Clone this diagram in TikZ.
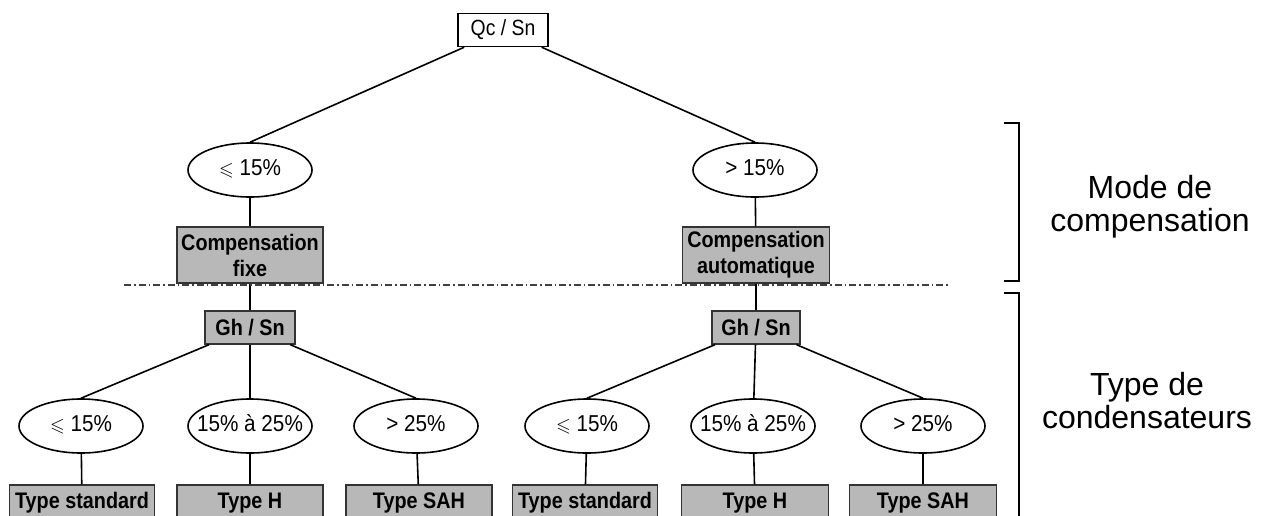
\documentclass[tikz,border=0pt]{standalone}
\usepackage{amsmath,amssymb}
\usepackage{fontspec}
\setmainfont{Liberation Sans}
\newfontfamily\narrowfont[FakeStretch=0.88]{Liberation Sans}
\newfontfamily\ovalfont[FakeStretch=0.9]{Liberation Sans}
\usetikzlibrary{shapes.geometric}
\tikzstyle{rootbox} = [draw=black, fill=white, line width=1.4pt,
    rectangle, minimum width=90pt, minimum height=33pt,
    font=\narrowfont\fontsize{22}{24}\selectfont]
\tikzstyle{greybox} = [draw=black!80, fill=black!28, line width=1.4pt,
    rectangle, inner sep=2pt, align=center,
    font=\narrowfont\bfseries\fontsize{22.5}{26}\selectfont]
\tikzstyle{ratio} = [draw=black, fill=white, line width=1.6pt, ellipse,
    minimum width=124pt, minimum height=54pt, inner ysep=0pt, inner xsep=-10pt,
    text height=16pt, text depth=5pt,
    font=\ovalfont\fontsize{23}{23}\selectfont]
\tikzstyle{branch} = [line width=1.6pt]
\tikzstyle{sidetext} = [align=center, font=\fontsize{32}{33}\selectfont]
\newcommand{\leqsym}{{\fontsize{19}{19}\selectfont$\leqslant$}}

\begin{document}
\begin{tikzpicture}[x=1pt, y=-1pt]
                \useasboundingbox (0,0) rectangle (1272,515);
                % first level
                \node [rootbox] (qc) at (503,30) {Qc / Sn};
                \node [ratio] (lowq) at (250,170) {\leqsym{} 15\%};
                \node [ratio] (highq) at (755,170) {> 15\%};
                \node [greybox, minimum width=146pt, minimum height=56pt] (fixe) at (250,255) {Compensation\\fixe};
                \node [greybox, minimum width=147pt, minimum height=56pt] (auto) at (756,255) {Compensation\\automatique};
                % second level
                \node [greybox, minimum width=90pt, minimum height=33pt] (ghA) at (250,327.5) {Gh / Sn};
                \node [greybox, minimum width=88pt, minimum height=33pt] (ghB) at (756,327.5) {Gh / Sn};
                \node [ratio] (lowA) at (81,426) {\leqsym{} 15\%};
                \node [ratio] (midA) at (250,426) {15\% à 25\%};
                \node [ratio] (highA) at (416,426) {> 25\%};
                \node [ratio] (lowB) at (587,426) {\leqsym{} 15\%};
                \node [ratio] (midB) at (753,426) {15\% à 25\%};
                \node [ratio] (highB) at (923,426) {> 25\%};
                \node [greybox, minimum width=145pt, minimum height=36pt] (stdA) at (82,503) {Type standard};
                \node [greybox, minimum width=146pt, minimum height=36pt] (hA) at (250,503) {Type H};
                \node [greybox, minimum width=146pt, minimum height=36pt] (sahA) at (419,503) {Type SAH};
                \node [greybox, minimum width=145pt, minimum height=36pt] (stdB) at (585,503) {Type standard};
                \node [greybox, minimum width=147pt, minimum height=36pt] (hB) at (755,503) {Type H};
                \node [greybox, minimum width=147pt, minimum height=36pt] (sahB) at (923,503) {Type SAH};
                % connectors
                \draw [branch] (qc) -- (lowq.north);
                \draw [branch] (qc) -- (highq.north);
                \draw [branch] (lowq) -- (fixe);
                \draw [branch] (highq) -- (auto);
                \draw [branch] (fixe) -- (ghA);
                \draw [branch] (auto) -- (ghB);
                \draw [branch] (ghA) -- (lowA.north);
                \draw [branch] (ghA) -- (midA);
                \draw [branch] (ghA) -- (highA.north);
                \draw [branch] (ghB) -- (lowB.north);
                \draw [branch] (ghB) -- (midB);
                \draw [branch] (ghB) -- (highB.north);
                \draw [branch] (lowA) -- (stdA);
                \draw [branch] (midA) -- (hA);
                \draw [branch] (highA) -- (sahA);
                \draw [branch] (lowB) -- (stdB);
                \draw [branch] (midB) -- (hB);
                \draw [branch] (highB) -- (sahB);
                % separation and brackets
                \draw [line width=1.3pt, black!75, dash pattern=on 7pt off 3pt on 1.5pt off 3pt] (124,285) -- (948,285);
                \draw [line width=1.4pt] (1004,123) -- (1019,123) -- (1019,281) -- (1004,281);
                \draw [line width=1.4pt] (1004,293) -- (1019,293) -- (1019,530);
                \node [sidetext] (mode) at (1150,207) {Mode de\\compensation};
                \node [sidetext] (typec) at (1147,401) {Type de\\condensateurs};
            \end{tikzpicture}
\end{document}
